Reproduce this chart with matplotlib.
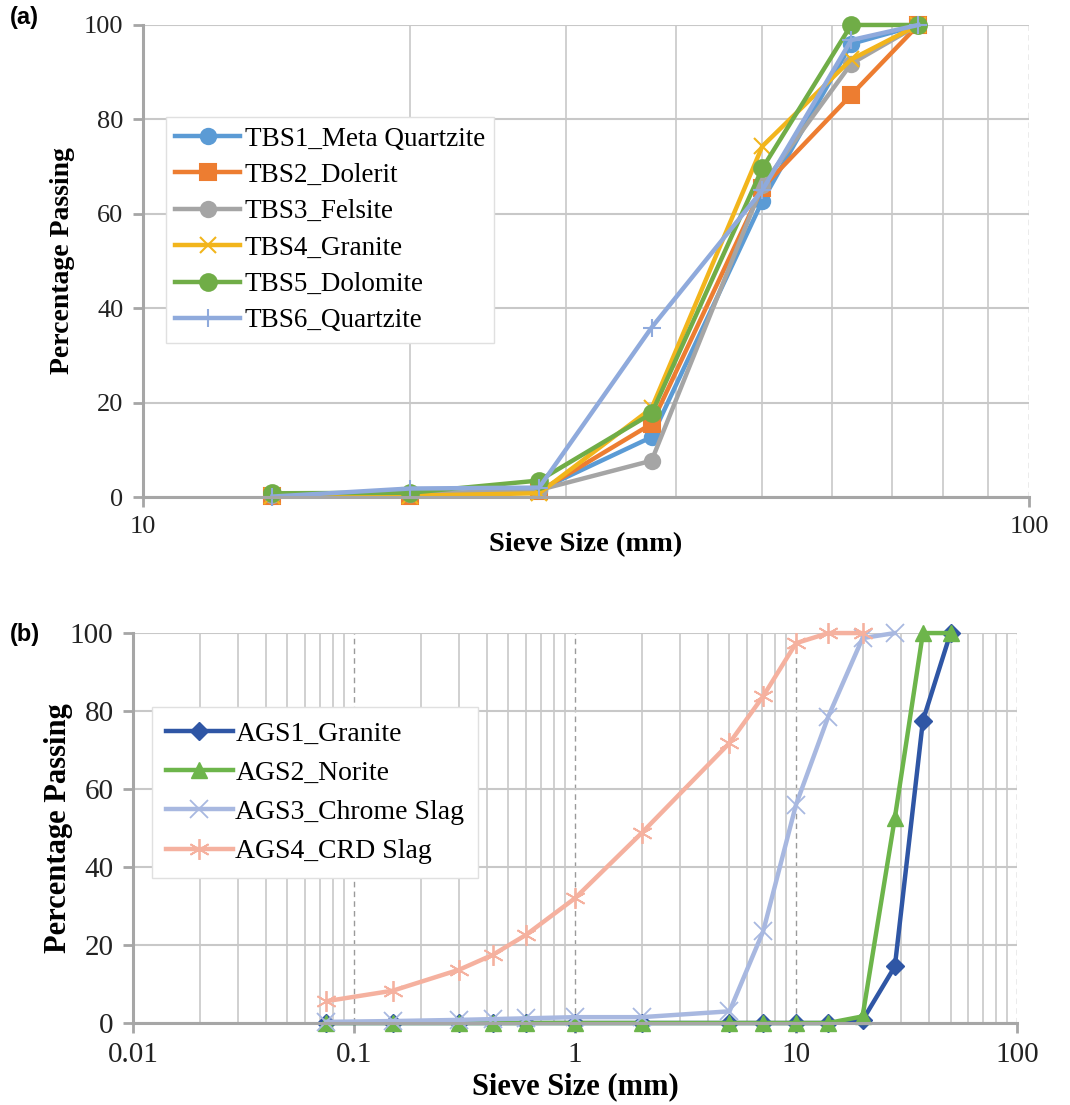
import numpy as np
import matplotlib
matplotlib.use('Agg')
import matplotlib.pyplot as plt
from matplotlib.ticker import LogLocator, NullFormatter

plt.rcParams['font.family'] = ['Liberation Serif', 'DejaVu Serif']

# panel (a): sieve sizes (mm) and % passing
sieve_a = [14, 20, 28, 37.5, 50, 63, 75]
tbs1 = [0.3, 0.5, 1.5, 12.7, 62.7, 96.0, 100]
tbs2 = [0.2, 0.3, 1.2, 15.5, 65.5, 85.2, 100]
tbs3 = [0.4, 0.6, 1.5, 7.7, 66.0, 91.8, 100]
tbs4 = [0.2, 0.3, 0.8, 18.8, 74.3, 92.7, 100]
tbs5 = [0.8, 0.9, 3.5, 17.7, 69.6, 100, 100]
tbs6 = [0.1, 1.8, 2.0, 35.9, 65.0, 96.8, 100]
names_a = ['TBS1_Meta Quartzite', 'TBS2_Dolerit', 'TBS3_Felsite',
           'TBS4_Granite', 'TBS5_Dolomite', 'TBS6_Quartzite']

# panel (b)
sieve_b = [0.075, 0.15, 0.3, 0.425, 0.6, 1.0, 2.0, 5.0, 7.1, 10, 14, 20, 28, 37.5, 50]
ags1 = [0, 0, 0, 0, 0, 0, 0, 0, 0, 0, 0, 0.7, 14.5, 77.5, 100]
ags2 = [0, 0, 0, 0, 0, 0, 0, 0, 0, 0, 0, 1.7, 52.6, 100, 100]
ags3 = [0.3, 0.5, 0.8, 1.0, 1.2, 1.5, 1.5, 3.0, 23.5, 56.0, 78.6, 98.7, 100]
ags4 = [5.6, 8.3, 13.7, 17.5, 22.6, 32.0, 48.7, 71.8, 83.8, 97.4, 100, 100]
names_b = ['AGS1_Granite', 'AGS2_Norite', 'AGS3_Chrome Slag', 'AGS4_CRD Slag']

grid_c = '#c8c8c8'
axis_c = '#a6a6a6'


def style_axes(ax, xmin, xmax, fs, lfs):
    ax.set_xscale('log')
    ax.set_xlim(xmin, xmax)
    ax.set_ylim(0, 100)
    ax.set_yticks(np.arange(0, 101, 20))
    ax.xaxis.set_minor_locator(LogLocator(base=10, subs=np.arange(2, 10)))
    ax.xaxis.set_minor_formatter(NullFormatter())
    ax.xaxis.set_major_formatter(matplotlib.ticker.FuncFormatter(lambda v, p: '%g' % v))
    ax.grid(True, which='minor', axis='x', color=grid_c, lw=1.2)
    ax.grid(True, which='major', axis='x', color='#9a9a9a', lw=1.0, ls=(0, (4, 3)))
    ax.grid(True, which='major', axis='y', color=grid_c, lw=1.5)
    ax.set_axisbelow(True)
    for s in ['top', 'right']:
        ax.spines[s].set_visible(False)
    for s in ['left', 'bottom']:
        ax.spines[s].set_color(axis_c)
        ax.spines[s].set_linewidth(2.2)
    ax.tick_params(axis='both', which='major', colors=axis_c, labelcolor='#222222',
                   length=7, width=2, labelsize=fs, pad=7)
    ax.tick_params(axis='x', which='minor', length=0)
    ax.set_xlabel('Sieve Size (mm)', fontsize=lfs, fontweight='bold', labelpad=0)


fig = plt.figure(figsize=(10.7, 11.05), dpi=100)

# ---- (a)
ax1 = fig.add_axes([0.1336, 0.5502, 0.8281, 0.4272])
style_axes(ax1, 10, 100, 19, 20.5)
cols_a = ['#5b9bd5', '#ed7d31', '#a5a5a5', '#f2b51c', '#70ad47', '#8faadc']
marks_a = ['o', 's', 'o', 'x', 'o', '+']
sizes_a = [11, 11, 11, 12, 12, 13]
for vals, c, m, ms, n in zip([tbs1, tbs2, tbs3, tbs4, tbs5, tbs6], cols_a, marks_a,
                             sizes_a, names_a):
    ax1.plot(sieve_a, vals, color=c, lw=3.2, marker=m, markersize=ms, mew=1.5,
             label=n, clip_on=False)
ax1.set_ylabel('Percentage Passing', fontsize=20, fontweight='bold')
ax1.yaxis.set_label_coords(-0.077, 0.5)
ax1.xaxis.set_label_coords(0.5, -0.075)
ax1.legend(loc='upper left', bbox_to_anchor=(0.026, 0.805), fontsize=19.5,
           frameon=True, fancybox=False, edgecolor='#e0e0e0', framealpha=1,
           handlelength=2.4, handletextpad=0.15, labelspacing=0.42,
           borderpad=0.35, borderaxespad=0)

# ---- (b)
ax2 = fig.add_axes([0.1243, 0.0742, 0.8262, 0.3529])
style_axes(ax2, 0.01, 100, 21, 22)
ax2.plot(sieve_b, ags1, color='#2f56a5', lw=3.2, marker='D', markersize=9,
         label=names_b[0], clip_on=False)
ax2.plot(sieve_b, ags2, color='#6db54b', lw=3.2, marker='^', markersize=12,
         label=names_b[1], clip_on=False)
ax2.plot(sieve_b[:len(ags3)], ags3, color='#a8b8e0', lw=3.2, marker='x', markersize=13,
         mew=1.3, label=names_b[2], clip_on=False)
ax2.plot(sieve_b[:len(ags4)], ags4, color='#f5b19f', lw=3.2, marker=(6, 2, 0),
         markersize=15, mew=1.3, label=names_b[3], clip_on=False)
ax2.set_ylabel('Percentage Passing', fontsize=22, fontweight='bold')
ax2.yaxis.set_label_coords(-0.068, 0.5)
ax2.xaxis.set_label_coords(0.5, -0.125)
ax2.legend(loc='upper left', bbox_to_anchor=(0.0215, 0.81), fontsize=20,
           frameon=True, fancybox=False, edgecolor='#e0e0e0', framealpha=1,
           handlelength=2.4, handletextpad=0.1, labelspacing=0.5,
           borderpad=0.5, borderaxespad=0)

fig.text(0.009, 0.984, '(a)', fontsize=17, fontweight='bold', family='Liberation Sans',
         va='center')
fig.text(0.009, 0.426, '(b)', fontsize=17, fontweight='bold', family='Liberation Sans',
         va='center')

fig.savefig('out.png', dpi=100, facecolor='white')
